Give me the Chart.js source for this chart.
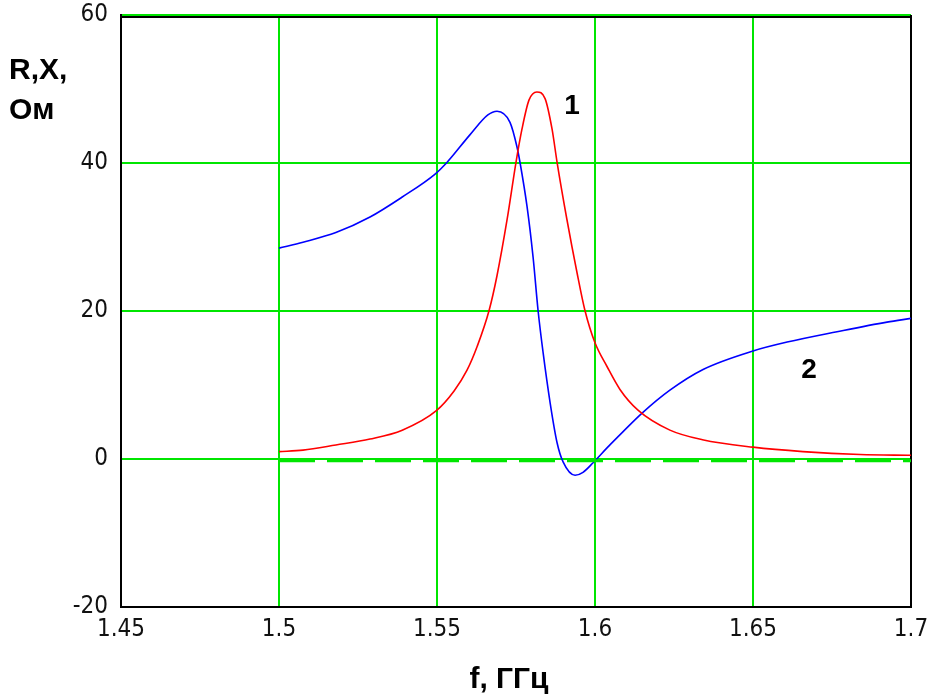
<!DOCTYPE html>
<html>
<head>
<meta charset="utf-8">
<script src="https://cdn.jsdelivr.net/npm/chart.js@4"></script>
<style>
  body { margin: 0; background: #fff; }
  canvas { display: block; }
</style>
</head>
<body>
<canvas id="myChart" width="930" height="699"></canvas>
<script>
// R(f) - curve 1 (red)
const fR = [1.5, 1.5076, 1.518, 1.5288, 1.539, 1.5497, 1.5554, 1.5595, 1.5627, 1.5665, 1.569, 1.5722, 1.575, 1.5769, 1.5791, 1.5816,
  1.5842, 1.5864, 1.588, 1.5911, 1.5943, 1.5968, 1.600, 1.6038, 1.6079, 1.6136, 1.6237, 1.634, 1.65, 1.6658, 1.6839, 1.70]
const R = [1.0, 1.2, 1.9, 2.7, 3.9, 6.5, 9.2, 12.0, 15.2, 20.1, 24.8, 32.4, 40.1, 44.6, 48.5, 49.6,
  48.7, 44.6, 40.1, 32.4, 25.2, 20.1, 15.7, 12.5, 9.4, 6.6, 3.9, 2.6, 1.6, 1.0, 0.6, 0.5]

// X(f) - curve 2 (blue)
const fX = [1.5, 1.5076, 1.518, 1.5288, 1.539, 1.5494, 1.553, 1.5604, 1.5661, 1.569, 1.5731, 1.5753, 1.5763, 1.5785, 1.5804,
  1.582, 1.5836, 1.5858, 1.588, 1.5899, 1.5937, 1.5962, 1.5994, 1.6038, 1.6089, 1.6149, 1.6237, 1.6342, 1.65, 1.6608, 1.6766, 1.6924, 1.70]
const X = [28.5, 29.3, 30.6, 32.7, 35.4, 38.5, 40.0, 43.8, 46.5, 47.0, 45.5, 42.2, 40.0, 34.1, 27.3,
  20.0, 14.3, 7.6, 2.2, -0.4, -2.2, -1.8, -0.5, 1.5, 3.7, 6.2, 9.3, 12.1, 14.6, 15.8, 17.2, 18.5, 19.0]

// zero trace (dashed green)
const fZero = [1.5, 1.7]
const zero = [-0.25, -0.25]

const xTicks = [1.45, 1.5, 1.55, 1.6, 1.65, 1.7]
const yTicks = [-20, 0, 20, 40, 60]

const green = '#00e600'
const ctx = document.getElementById('myChart')

function pts(xs, ys) {
  return xs.map((x, i) => ({ x: x, y: ys[i] }))
}

// frame + text labels
const extras = {
  id: 'extras',
  beforeDatasetsDraw(chart) {
    const c = chart.ctx
    const a = chart.chartArea
    c.save()
    c.strokeStyle = '#000'
    c.lineWidth = 2
    c.beginPath()
    c.moveTo(a.left, a.top + 2)
    c.lineTo(a.right, a.top + 2)
    c.moveTo(a.right, a.top)
    c.lineTo(a.right, a.bottom)
    c.stroke()
    c.restore()
  },
  afterDraw(chart) {
    const c = chart.ctx
    const xs = chart.scales.x
    const ys = chart.scales.y
    c.save()
    c.fillStyle = '#000'
    c.font = 'bold 30px "Liberation Sans", Arial, sans-serif'
    c.textAlign = 'left'
    c.textBaseline = 'alphabetic'
    c.fillText('R,X,', 9, 79)
    c.fillText('Ом', 9, 119)
    c.textAlign = 'center'
    c.fillText('f, ГГц', 509, 688)
    c.font = 'bold 28px "Liberation Sans", Arial, sans-serif'
    c.textBaseline = 'middle'
    c.fillText('1', xs.getPixelForValue(1.5927), ys.getPixelForValue(47.6))
    c.fillText('2', xs.getPixelForValue(1.6677), ys.getPixelForValue(12))
    c.restore()
  }
}

const tickFont = { family: '"Liberation Sans Narrow", "DejaVu Sans Condensed", sans-serif', size: 24 }

const myChart = new Chart(ctx, {
  type: 'line',
  data: {
    datasets: [
      {
        label: 'zero',
        data: pts(fZero, zero),
        borderColor: green,
        borderWidth: 3,
        borderDash: [36, 12],
        pointRadius: 0
      },
      {
        label: 'R',
        data: pts(fR, R),
        borderColor: '#ff0000',
        borderWidth: 1.6,
        pointRadius: 0,
        cubicInterpolationMode: 'monotone'
      },
      {
        label: 'X',
        data: pts(fX, X),
        borderColor: '#0000ff',
        borderWidth: 1.6,
        pointRadius: 0,
        cubicInterpolationMode: 'monotone'
      }
    ]
  },
  options: {
    responsive: false,
    animation: false,
    layout: { padding: { left: 0, right: 19, top: 15, bottom: 0 } },
    plugins: { legend: { display: false }, tooltip: { enabled: false } },
    scales: {
      x: {
        type: 'linear',
        min: 1.45,
        max: 1.7,
        afterBuildTicks: s => { s.ticks = xTicks.map(v => ({ value: v })) },
        afterFit: s => { s.height = 92; s.paddingLeft = 0; s.paddingRight = 0 },
        border: { color: '#000', width: 2 },
        grid: {
          drawTicks: false,
          lineWidth: 2,
          color: c => (c.tick && c.tick.value === 1.45 ? 'rgba(0,0,0,0)' : green)
        },
        ticks: {
          padding: 8,
          color: '#111',
          font: tickFont,
          callback: v => String(v),
          maxRotation: 0
        }
      },
      y: {
        min: -20,
        max: 60,
        afterBuildTicks: s => { s.ticks = yTicks.map(v => ({ value: v })) },
        afterFit: s => { s.width = 121; s.paddingTop = 0; s.paddingBottom = 0 },
        border: { color: '#000', width: 2 },
        grid: {
          drawTicks: false,
          lineWidth: 2,
          color: c => (c.tick && c.tick.value === -20 ? 'rgba(0,0,0,0)' : green)
        },
        ticks: {
          padding: 13,
          color: '#111',
          font: tickFont
        }
      }
    }
  },
  plugins: [extras]
})
</script>
</body>
</html>
